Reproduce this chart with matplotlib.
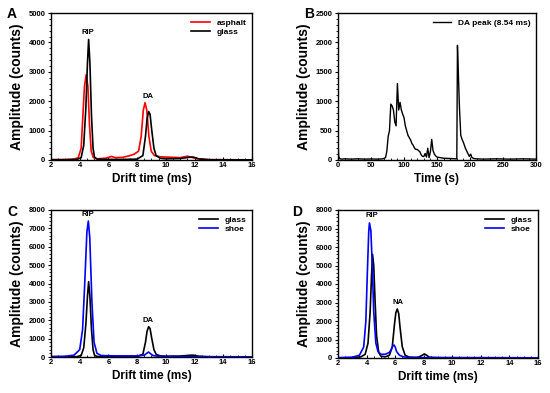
import matplotlib.pyplot as plt

plt.rcParams['font.family'] = ['Liberation Sans', 'DejaVu Sans']
plt.rcParams['font.weight'] = 'bold'

# --- Panel A: asphalt vs glass (drift time spectra) ---
asphalt_t = [2.0, 3.0, 3.6, 3.9, 4.1, 4.22, 4.33, 4.45, 4.57, 4.68, 4.8, 4.95, 5.2, 5.8, 6.2, 6.5,
             7.0, 7.5, 7.8, 8.1, 8.28, 8.43, 8.55, 8.67, 8.82, 8.98, 9.2, 9.6, 10.0, 10.5, 11.0,
             11.5, 11.8, 12.2, 13.0, 16.0]
asphalt_y = [10, 15, 30, 80, 400, 1500, 2500, 2900, 2500, 1200, 300, 80, 40, 60, 120, 80,
             90, 150, 200, 300, 800, 1700, 1950, 1700, 800, 300, 150, 110, 100, 90, 80,
             130, 90, 40, 10, 5]

glass_t = [2.0, 3.0, 3.8, 4.1, 4.28, 4.43, 4.54, 4.62, 4.71, 4.82, 4.93, 5.03, 5.2, 6.0, 7.0, 8.0,
           8.4, 8.58, 8.69, 8.8, 8.9, 9.02, 9.17, 9.32, 9.6, 10.0, 11.0, 11.6, 11.9, 12.3, 13.0, 16.0]
glass_y = [10, 10, 20, 80, 500, 1800, 3300, 4100, 3300, 1500, 400, 100, 30, 20, 20, 30,
           150, 800, 1400, 1650, 1550, 1000, 400, 150, 60, 40, 50, 90, 100, 40, 10, 5]

# --- Panel B: DA peak intensity over time ---
time_s = [0, 1, 3, 6, 10, 20, 30, 40, 50, 60, 68, 72, 74, 76, 78, 80, 82, 84, 86, 88, 90, 92,
          94, 96, 98, 100, 102, 104, 106, 108, 110, 112, 114, 116, 118, 120, 122, 124, 126,
          128, 130, 132, 134, 136, 138, 140, 142, 144, 146, 148, 150, 155, 160, 170, 178,
          180, 181, 182, 184, 186, 188, 190, 193, 196, 199, 201, 203, 206, 210, 220, 240,
          260, 280, 300]
da_peak = [350, 60, 20, 15, 20, 15, 20, 15, 18, 15, 20, 40, 150, 400, 500, 950, 920, 850, 650,
           580, 1300, 850, 980, 850, 780, 720, 580, 500, 420, 380, 340, 280, 250, 200, 180,
           180, 160, 140, 90, 60, 60, 110, 50, 200, 40, 140, 350, 160, 100, 70, 50, 40, 30,
           25, 20, 20, 1950, 1600, 900, 420, 350, 300, 200, 130, 60, 100, 40, 25, 20, 15, 20,
           15, 20, 15]

# --- Panel C: shoe vs glass ---
shoeC_t = [2.0, 3.0, 3.6, 4.0, 4.2, 4.35, 4.5, 4.6, 4.7, 4.85, 5.0, 5.2, 5.5, 6.5, 8.0, 8.5,
           8.7, 8.8, 8.9, 9.1, 9.5, 10.5, 12.0, 16.0]
shoeC_y = [30, 40, 100, 400, 1500, 4000, 6800, 7400, 6500, 3000, 800, 200, 80, 60, 60, 100,
           220, 270, 200, 80, 40, 30, 20, 10]

# --- Panel D: NA, glass vs shoe ---
glassD_t = [2.0, 3.0, 3.6, 3.9, 4.1, 4.25, 4.35, 4.42, 4.5, 4.6, 4.7, 4.85, 5.0, 5.3, 5.6, 5.8,
            5.95, 6.05, 6.15, 6.25, 6.35, 6.5, 6.7, 7.0, 7.6, 7.9, 8.05, 8.2, 8.4, 9.0, 16.0]
glassD_y = [10, 20, 60, 200, 800, 2500, 4500, 5600, 5000, 3000, 1200, 300, 100, 60, 150, 600,
            1800, 2450, 2650, 2400, 1600, 600, 150, 40, 30, 150, 220, 150, 40, 20, 10]
shoeD_t = [2.0, 3.0, 3.5, 3.8, 3.95, 4.05, 4.15, 4.2, 4.3, 4.4, 4.5, 4.65, 4.8, 5.0, 5.3, 5.6,
           5.75, 5.85, 5.92, 6.0, 6.1, 6.3, 6.6, 7.0, 8.0, 10.0, 16.0]
shoeD_y = [20, 40, 150, 600, 2000, 4500, 6800, 7300, 6900, 5000, 2500, 800, 350, 200, 200, 300,
           500, 680, 700, 600, 350, 150, 60, 30, 20, 15, 10]

TICK = 5.5
XLABEL = 8.5
YLABEL = 10
LW = 1.2

fig = plt.figure(figsize=(5.5, 3.93), dpi=100)
W, H = 550, 393


def make_ax(l, r, t, b):
    return fig.add_axes([l / W, 1 - b / H, (r - l) / W, (b - t) / H])


def style(ax, xlab):
    ax.tick_params(labelsize=TICK, width=0.8, length=2.5, pad=1.5)
    ax.tick_params(which='minor', width=0.6, length=1.5)
    ax.tick_params(axis='x', which='both', direction='in')
    ax.tick_params(axis='y', which='both', direction='out')
    ax.minorticks_on()
    for lab in ax.get_xticklabels() + ax.get_yticklabels():
        lab.set_fontweight('bold')
    for s in ax.spines.values():
        s.set_linewidth(1.0)
    ax.set_xlabel(xlab, fontsize=XLABEL, fontweight='bold', labelpad=3)
    ax.set_ylabel('Amplitude (counts)', fontsize=YLABEL, fontweight='bold', labelpad=3)


def drift_axis(ax):
    ax.set_xlim(2, 16)
    ax.set_xticks(range(2, 17, 2))


leg_kw = dict(frameon=False, prop={'weight': 'bold', 'size': 6},
              handlelength=2.2, labelspacing=0.2, borderaxespad=0.3, loc='upper right')

# A
axA = make_ax(51, 252, 13, 160)
axA.plot(asphalt_t, asphalt_y, color='red', lw=LW, label='asphalt')
axA.plot(glass_t, glass_y, color='black', lw=LW, label='glass')
drift_axis(axA)
axA.set_ylim(0, 5000)
axA.set_yticks(range(0, 5001, 1000))
axA.text(4.6, 4300, 'RIP', ha='center', fontsize=5.5, fontweight='bold')
axA.text(8.75, 2100, 'DA', ha='center', fontsize=5.5, fontweight='bold')
axA.legend(**leg_kw)
style(axA, 'Drift time (ms)')

# B
axB = make_ax(338, 536, 13, 160)
axB.plot(time_s, da_peak, color='black', lw=1.0, label='DA peak (8.54 ms)')
axB.set_xlim(0, 300)
axB.set_xticks(range(0, 301, 50))
axB.set_ylim(0, 2500)
axB.set_yticks(range(0, 2501, 500))
axB.legend(**leg_kw)
style(axB, 'Time (s)')

# C
axC = make_ax(51, 252, 210, 357)
axC.plot(glass_t, glass_y, color='black', lw=LW, label='glass')
axC.plot(shoeC_t, shoeC_y, color='blue', lw=LW, label='shoe')
drift_axis(axC)
axC.set_ylim(0, 8000)
axC.set_yticks(range(0, 8001, 1000))
axC.text(4.6, 7650, 'RIP', ha='center', fontsize=5.5, fontweight='bold')
axC.text(8.75, 1900, 'DA', ha='center', fontsize=5.5, fontweight='bold')
axC.legend(**leg_kw)
style(axC, 'Drift time (ms)')

# D
axD = make_ax(338, 538, 210, 358)
axD.plot(glassD_t, glassD_y, color='black', lw=LW, label='glass')
axD.plot(shoeD_t, shoeD_y, color='blue', lw=LW, label='shoe')
drift_axis(axD)
axD.set_ylim(0, 8000)
axD.set_yticks(range(0, 8001, 1000))
axD.text(4.4, 7600, 'RIP', ha='center', fontsize=5.5, fontweight='bold')
axD.text(6.2, 2900, 'NA', ha='center', fontsize=5.5, fontweight='bold')
axD.legend(**leg_kw)
style(axD, 'Drift time (ms)')

for letter, x, y in [('A', 12, 14), ('B', 309, 14), ('C', 12, 212), ('D', 297, 212)]:
    fig.text(x / W, 1 - y / H, letter, fontsize=10, fontweight='bold', ha='center', va='center')

fig.savefig('out.png', dpi=100)
